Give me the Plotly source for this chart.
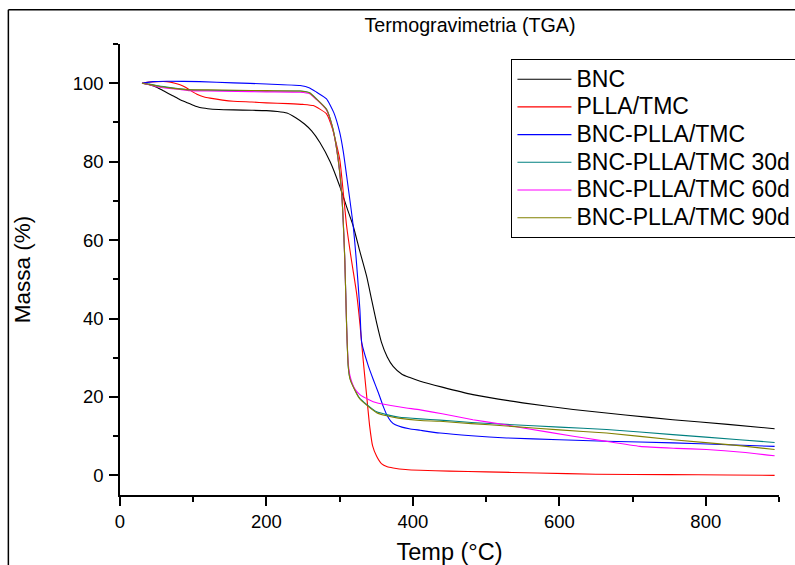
import plotly.graph_objects as go

# ---------------- data ----------------
series_names = ["BNC", "PLLA/TMC", "BNC-PLLA/TMC", "BNC-PLLA/TMC 30d",
                "BNC-PLLA/TMC 60d", "BNC-PLLA/TMC 90d"]
series_colors = ["#000000", "#ff0000", "#0000ff", "#008080", "#ff00ff", "#808000"]

bnc_t = [30, 40, 50, 60, 72, 82, 91, 100, 109, 120, 135, 155, 180, 200, 215, 228, 240,
         252, 262, 273, 287, 300, 310, 318.5, 327, 336.8, 344, 350.5, 357, 365, 373, 385,
         395, 410, 440, 482, 550, 619, 690, 755, 830, 894]
bnc_m = [100, 99.6, 99.0, 98.0, 96.8, 95.8, 95.1, 94.4, 93.8, 93.5, 93.3, 93.2, 93.1, 93.0,
         92.8, 92.4, 91.2, 89.6, 87.8, 84.9, 80.0, 73.8, 68.2, 63.6, 57.5, 50.8, 44.5, 38.9,
         34.0, 30.2, 27.8, 25.8, 25.0, 24.0, 22.5, 20.6, 18.5, 16.8, 15.4, 14.2, 13.0, 11.9]

plla_t = [30, 40, 50, 64, 75, 82, 90, 95, 105, 115, 123, 140, 155, 180, 200, 230, 250, 264,
          273, 282, 290, 300, 305, 309.5, 316, 323, 328, 332, 336.5, 341, 345, 350.5, 357,
          365, 373, 390, 410, 450, 500, 570, 650, 750, 830, 894]
plla_m = [100, 100.3, 100.4, 100.4, 100.0, 99.6, 98.9, 98.3, 97.2, 96.5, 96.2, 95.7, 95.4,
          95.2, 95.0, 94.8, 94.6, 94.3, 93.4, 92.2, 88.5, 80.7, 72.0, 63.6, 55.0, 46.6, 38.0,
          29.6, 21.0, 12.5, 7.5, 4.85, 3.0, 2.2, 1.9, 1.5, 1.3, 1.1, 0.9, 0.6, 0.3, 0.2, 0.1, 0.0]

bp_t = [30, 45, 64, 109, 155, 200, 246, 259, 268.5, 282, 292, 300, 305, 309.5, 318.5, 327.6,
        330, 339, 346, 353, 359.5, 365, 370, 376, 385, 395, 410, 437, 480, 528, 600, 664, 755,
        830, 894]
bp_m = [100, 100.4, 100.5, 100.4, 100.1, 99.8, 99.4, 98.8, 97.7, 96.0, 92.5, 87.5, 82.5, 76.4,
        63.6, 42.3, 34.0, 28.0, 24.4, 21.0, 17.6, 15.2, 13.8, 12.9, 12.3, 11.9, 11.5, 10.8,
        10.1, 9.55, 9.1, 8.7, 8.3, 7.8, 7.4]

d30_t = [30, 40, 50, 64, 82, 95, 120, 160, 200, 246, 259, 268.5, 282, 290, 296, 302.7, 307,
         309.5, 311.7, 314, 318.5, 327, 336.8, 350.5, 364, 380, 410, 437, 480, 528, 600, 664.5,
         755, 846, 894]
d30_m = [100, 99.8, 99.4, 99.0, 98.6, 98.3, 98.2, 98.1, 98.0, 98.0, 97.6, 96.0, 93.4, 89.0,
         83.2, 72.1, 55.1, 38.1, 27.8, 24.8, 22.7, 19.8, 18.1, 16.2, 15.5, 14.9, 14.4, 14.1,
         13.5, 13.0, 12.3, 11.7, 10.4, 9.1, 8.4]

d60_t = [30, 40, 50, 64, 82, 95, 120, 160, 200, 246, 259, 268.5, 282, 290, 296, 302.7, 307,
         309.5, 311.5, 314, 320, 327.6, 340, 350.5, 370, 391, 410, 440, 482, 520, 550.6, 619,
         660, 710, 760, 801, 850, 894]
d60_m = [100, 99.6, 99.1, 98.7, 98.4, 98.1, 98.0, 97.9, 97.8, 97.7, 97.3, 95.8, 93.2, 88.8,
         83.0, 72.0, 55.0, 38.0, 29.0, 25.5, 22.3, 20.6, 19.3, 18.5, 17.8, 17.2, 16.7, 15.7,
         14.2, 13.1, 12.1, 10.0, 8.8, 7.4, 6.9, 6.6, 5.9, 5.0]

d90_t = [30, 40, 50, 64, 82, 95, 120, 160, 200, 246, 259, 268.5, 282, 290, 296, 302.7, 307,
         309.5, 311.7, 314, 318.5, 327, 336.8, 350.5, 364, 380, 410, 437, 480, 528, 600, 664.5,
         755, 846, 894]
d90_m = [100, 99.7, 99.3, 98.9, 98.5, 98.3, 98.3, 98.2, 98.1, 98.0, 97.5, 95.9, 93.3, 88.9,
         83.1, 72.0, 55.0, 38.0, 27.9, 24.7, 22.6, 19.6, 17.9, 16.0, 15.2, 14.6, 14.0, 13.8,
         13.2, 12.6, 11.6, 10.8, 9.1, 7.6, 6.6]

series_t = [bnc_t, plla_t, bp_t, d30_t, d60_t, d90_t]
series_m = [bnc_m, plla_m, bp_m, d30_m, d60_m, d90_m]

x_ticks = [0, 200, 400, 600, 800]
y_ticks = [0, 20, 40, 60, 80, 100]

FONT = "Liberation Sans, Arial, sans-serif"

fig = go.Figure()
for name, color, t, m in zip(series_names, series_colors, series_t, series_m):
    fig.add_trace(go.Scatter(
        x=t, y=m, mode="lines",
        name='<span style="font-size:23px">' + name + '</span>',
        line=dict(color=color, width=1.1, shape="spline", smoothing=0.5),
    ))

axis_common = dict(
    showline=True, linecolor="black", linewidth=1.6,
    showgrid=False, zeroline=False, mirror=False,
    ticks="outside", ticklen=9, tickwidth=1.6, tickcolor="black",
    tickfont=dict(family=FONT, size=18.5, color="black"),
)

fig.update_layout(
    width=795, height=565,
    paper_bgcolor="white", plot_bgcolor="white",
    margin=dict(l=120, r=16, t=44, b=70, autoexpand=False),
    font=dict(family=FONT, color="black"),
    title=dict(text="Termogravimetria (TGA)", font=dict(family=FONT, size=19.7, color="black"),
               x=470 / 795, xref="container", xanchor="center",
               y=1 - 25 / 565, yref="container", yanchor="middle"),
    xaxis=dict(range=[0, 900], tickvals=x_ticks,
               minor=dict(dtick=100, tick0=0, ticks="outside", ticklen=5, tickwidth=1.6,
                          tickcolor="black"),
               title=dict(text="Temp (°C)", font=dict(family=FONT, size=23.5, color="black"),
                          standoff=13),
               **axis_common),
    yaxis=dict(range=[-5, 110], tickvals=y_ticks, ticklabelstandoff=2,
               minor=dict(dtick=10, tick0=0, ticks="outside", ticklen=5, tickwidth=1.6,
                          tickcolor="black"),
               title=dict(text="Massa (%)", font=dict(family=FONT, size=22.5, color="black"),
                          standoff=36),
               **axis_common),
    legend=dict(x=0.594, y=0.966, xanchor="left", yanchor="top",
                bgcolor="white", bordercolor="black", borderwidth=1,
                font=dict(family=FONT, size=19, color="black"),
                itemwidth=54, tracegroupgap=0),
    shapes=[
        dict(type="line", xref="paper", yref="paper", x0=-0.1694, x1=-0.1694,
             y0=-0.3, y1=1.0761, line=dict(color="black", width=1.5)),
        dict(type="line", xref="paper", yref="paper", x0=-0.1694, x1=1.1,
             y0=1.0761, y1=1.0761, line=dict(color="black", width=1.5)),
    ],
)

fig.write_html("out.html")
